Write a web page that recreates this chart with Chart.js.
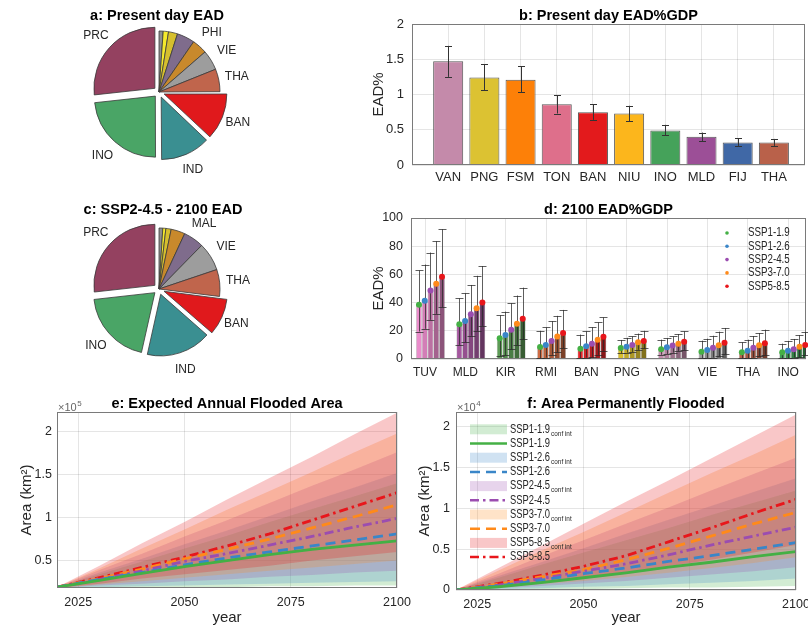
<!DOCTYPE html>
<html>
<head>
<meta charset="utf-8">
<script src="https://cdn.jsdelivr.net/npm/chart.js@4.4.1/dist/chart.umd.min.js"></script>
<style>
  html, body { margin: 0; padding: 0; background: #fff; }
  body { width: 808px; height: 625px; position: relative; overflow: hidden; }
  canvas { position: absolute; }
</style>
</head>
<body>
<canvas id="pieA" width="318" height="190" style="left:0;top:0"></canvas>
<canvas id="pieC" width="318" height="190" style="left:0;top:195px"></canvas>
<canvas id="barB" width="460" height="200" style="left:360px;top:0"></canvas>
<canvas id="barD" width="460" height="180" style="left:360px;top:200px"></canvas>
<canvas id="lineE" width="420" height="232" style="left:0;top:395px"></canvas>
<canvas id="lineF" width="420" height="232" style="left:400px;top:395px"></canvas>
<script>
// ---------------- data ----------------
// a: present-day expected annual damage share (%), clockwise from 12 o'clock
const pieALabels = ['', '', '', '', 'PHI', 'VIE', 'THA', 'BAN', 'IND', 'INO', 'PRC'];
const pieAValues = [1.1, 1.4, 2.4, 4.7, 4.0, 5.3, 6.0, 12.1, 12.9, 23.3, 26.7];
// c: SSP2-4.5 2100 expected annual damage share (%), clockwise from 12 o'clock
const pieCLabels = ['', '', '', '', 'MAL', 'VIE', 'THA', 'BAN', 'IND', 'INO', 'PRC'];
const pieCValues = [1.0, 0.8, 1.4, 3.7, 5.4, 7.5, 7.1, 9.5, 17.0, 19.7, 26.7];

// b: present-day EAD as % of GDP
const bCountries = ['VAN', 'PNG', 'FSM', 'TON', 'BAN', 'NIU', 'INO', 'MLD', 'FIJ', 'THA'];
const bMean = [1.47, 1.24, 1.21, 0.86, 0.75, 0.73, 0.49, 0.40, 0.32, 0.32];
const bLow  = [1.25, 1.06, 1.03, 0.73, 0.64, 0.62, 0.42, 0.34, 0.27, 0.27];
const bHigh = [1.69, 1.43, 1.40, 0.99, 0.86, 0.84, 0.57, 0.46, 0.38, 0.37];

// d: 2100 EAD as % of GDP per scenario (rows) and country (columns)
const dCountries = ['TUV', 'MLD', 'KIR', 'RMI', 'BAN', 'PNG', 'VAN', 'VIE', 'THA', 'INO'];
const scenarios = ['SSP1-1.9', 'SSP1-2.6', 'SSP2-4.5', 'SSP3-7.0', 'SSP5-8.5'];
const dMean = [
  [38.4, 24.7, 14.8,  8.5,  7.3,  7.8,  7.0,  5.2,  4.7, 4.7],
  [41.4, 27.0, 17.0, 10.0,  9.0,  8.7,  8.3,  6.4,  5.9, 5.9],
  [48.5, 31.8, 20.7, 12.7, 10.9, 10.0,  9.5,  8.0,  8.0, 6.9],
  [53.4, 36.0, 25.0, 16.0, 13.7, 11.8, 10.9,  9.7,  9.7, 8.7],
  [58.4, 40.0, 28.5, 18.4, 15.8, 12.8, 12.3, 11.6, 11.1, 9.9]
];
const dHigh = [
  [62.8, 43.0, 31.0, 20.0, 17.3, 13.5, 13.7, 13.0, 11.8, 10.9],
  [67.0, 46.6, 33.6, 22.4, 19.6, 15.0, 14.7, 14.4, 13.7, 12.8],
  [75.5, 52.5, 39.5, 26.8, 22.5, 16.0, 16.0, 16.5, 16.3, 14.2],
  [83.5, 59.0, 45.0, 30.6, 26.0, 18.0, 17.7, 19.4, 18.4, 17.0],
  [92.0, 65.9, 50.6, 34.8, 29.5, 20.0, 19.6, 22.0, 20.8, 18.9]
];
const dLow = [
  [19.5, 10.0,  2.0, 0.5, 0.5, 4.0, 3.0, 0.5, 0.5, 0.5],
  [21.4, 11.8,  2.6, 1.0, 1.0, 4.5, 3.5, 0.5, 0.5, 0.5],
  [27.8, 16.5,  7.0, 3.0, 1.5, 5.0, 4.5, 1.0, 1.0, 1.0],
  [32.0, 20.0, 10.0, 4.7, 3.0, 6.5, 5.5, 2.0, 2.0, 1.5],
  [36.7, 23.5, 14.0, 7.8, 6.0, 7.5, 6.5, 3.5, 3.0, 2.5]
];

// e/f: projection years
const years = [2020, 2030, 2040, 2050, 2060, 2070, 2080, 2090, 2100];
// e: expected annual flooded area (x10^5 km^2), per scenario
const eMedian = [
  [0.19, 0.27, 0.35, 0.43, 0.50, 0.57, 0.63, 0.68, 0.73],
  [0.19, 0.28, 0.36, 0.45, 0.53, 0.60, 0.67, 0.74, 0.81],
  [0.19, 0.28, 0.38, 0.49, 0.58, 0.68, 0.78, 0.89, 0.99],
  [0.19, 0.29, 0.40, 0.52, 0.63, 0.75, 0.88, 1.01, 1.15],
  [0.19, 0.30, 0.42, 0.54, 0.67, 0.81, 0.97, 1.13, 1.29]
];
const eUpper = [
  [0.19, 0.34, 0.49, 0.64, 0.79, 0.95, 1.10, 1.25, 1.40],
  [0.19, 0.36, 0.52, 0.69, 0.85, 1.02, 1.19, 1.35, 1.52],
  [0.19, 0.39, 0.58, 0.78, 0.97, 1.17, 1.37, 1.56, 1.76],
  [0.19, 0.41, 0.64, 0.86, 1.09, 1.31, 1.53, 1.76, 1.98],
  [0.19, 0.44, 0.70, 0.95, 1.21, 1.46, 1.71, 1.97, 2.22]
];
const eLower = [
  [0.18, 0.18, 0.19, 0.19, 0.19, 0.20, 0.20, 0.21, 0.21],
  [0.18, 0.19, 0.20, 0.21, 0.22, 0.23, 0.24, 0.25, 0.26],
  [0.18, 0.21, 0.23, 0.26, 0.28, 0.31, 0.33, 0.36, 0.38],
  [0.18, 0.22, 0.26, 0.30, 0.34, 0.38, 0.42, 0.46, 0.50],
  [0.18, 0.23, 0.29, 0.34, 0.39, 0.44, 0.50, 0.55, 0.60]
];
// f: area permanently flooded (x10^4 km^2), per scenario
const fMedian = [
  [0, 0.04, 0.09, 0.15, 0.21, 0.28, 0.34, 0.41, 0.47],
  [0, 0.05, 0.12, 0.20, 0.27, 0.35, 0.42, 0.50, 0.58],
  [0, 0.06, 0.14, 0.23, 0.32, 0.43, 0.55, 0.66, 0.77],
  [0, 0.07, 0.16, 0.25, 0.37, 0.51, 0.66, 0.81, 0.95],
  [0, 0.08, 0.18, 0.29, 0.42, 0.59, 0.76, 0.94, 1.11]
];
const fUpper = [
  [0, 0.15, 0.31, 0.46, 0.61, 0.76, 0.92, 1.07, 1.22],
  [0, 0.17, 0.34, 0.51, 0.69, 0.86, 1.03, 1.20, 1.37],
  [0, 0.20, 0.41, 0.61, 0.81, 1.01, 1.22, 1.42, 1.62],
  [0, 0.24, 0.48, 0.71, 0.95, 1.19, 1.43, 1.66, 1.90],
  [0, 0.27, 0.54, 0.81, 1.08, 1.34, 1.61, 1.88, 2.15]
];
const fLower = [
  [0, 0.00, 0.01, 0.01, 0.02, 0.03, 0.03, 0.04, 0.05],
  [0, 0.01, 0.02, 0.04, 0.05, 0.07, 0.09, 0.11, 0.14],
  [0, 0.02, 0.05, 0.08, 0.11, 0.15, 0.19, 0.23, 0.28],
  [0, 0.03, 0.07, 0.11, 0.16, 0.21, 0.27, 0.33, 0.40],
  [0, 0.04, 0.09, 0.15, 0.22, 0.29, 0.37, 0.46, 0.55]
];

// ---------------- styles ----------------
const FONT = '"Liberation Sans", Arial, Helvetica, sans-serif';
const TXT = '#262626';
const GRID = 'rgba(0,0,0,0.10)';
const FRAME = '#7a7a7a';
const BAND_ALPHA = 0.24;
const scenColors = [[68, 176, 69], [58, 134, 200], [155, 77, 176], [255, 138, 26], [232, 22, 27]];
const scenDash = [[], [10, 6], [9, 4, 2.5, 4], [10, 6], [9, 4, 2.5, 4]];
const rgb = (c, a = 1) => `rgba(${c[0]},${c[1]},${c[2]},${a})`;

const pieAColors = ['#8e8e8e', '#f5ea2c', '#d6bf2e', '#7f6c8c', '#c8892c', '#9d9d9d', '#c0654c', '#e0191c', '#3a8f91', '#4aa566', '#944160'];
const pieCColors = ['#8e8e8e', '#f5ea2c', '#d6bf2e', '#c8892c', '#7f6c8c', '#9d9d9d', '#c0654c', '#e0191c', '#3a8f91', '#4aa566', '#944160'];
// arc offset (Chart.js moves an arc by a quarter of this value)
const pieExplode = [0, 0, 0, 0, 0, 0, 0, 22, 22, 22, 22];

const bColors = ['#c48aaa', '#dcc232', '#fd8008', '#de6f8b', '#e31a1c', '#fcb61c', '#45a25a', '#9c4f97', '#4068a6', '#b9614a'];
const dBase = [[234, 140, 203], [165, 89, 159], [93, 155, 86], [207, 108, 68], [227, 38, 42],
               [216, 189, 46], [197, 142, 174], [154, 154, 154], [185, 98, 75], [63, 157, 84]];

Chart.defaults.font.family = FONT;
Chart.defaults.color = TXT;
Chart.defaults.animation = false;
Chart.defaults.responsive = false;
Chart.defaults.plugins.legend.display = false;
Chart.defaults.plugins.tooltip.enabled = false;

// ---------------- plugins ----------------
const panelTitle = {
  id: 'panelTitle',
  afterDraw(chart, args, o) {
    const {ctx, chartArea} = chart;
    ctx.save();
    ctx.font = `bold 14.5px ${FONT}`;
    ctx.fillStyle = '#000';
    ctx.textAlign = 'center';
    ctx.textBaseline = 'middle';
    const x = o.x !== undefined ? o.x : (chartArea.left + chartArea.right) / 2;
    ctx.fillText(o.text, x, o.y);
    ctx.restore();
  }
};

const frame = {
  id: 'frame',
  afterDatasetsDraw(chart) {
    const {ctx, chartArea: a} = chart;
    ctx.save();
    ctx.strokeStyle = FRAME;
    ctx.lineWidth = 1;
    ctx.strokeRect(Math.round(a.left) + 0.5, Math.round(a.top) + 0.5,
                   Math.round(a.right - a.left) - 1, Math.round(a.bottom - a.top) - 1);
    ctx.restore();
  }
};

const pieLabels = {
  id: 'pieLabels',
  afterDatasetsDraw(chart, args, o) {
    const {ctx} = chart;
    const meta = chart.getDatasetMeta(0);
    const labels = chart.data.labels;
    ctx.save();
    ctx.font = `12px ${FONT}`;
    ctx.fillStyle = TXT;
    ctx.textAlign = 'center';
    ctx.textBaseline = 'middle';
    meta.data.forEach((arc, i) => {
      if (!labels[i]) return;
      const p = arc.getProps(['x', 'y', 'startAngle', 'endAngle', 'outerRadius'], true);
      const mid = (p.startAngle + p.endAngle) / 2;
      const r = p.outerRadius * o.factor + (arc.options.offset || 0) / 4;
      ctx.fillText(labels[i], p.x + Math.cos(mid) * r, p.y + Math.sin(mid) * r);
    });
    ctx.restore();
  }
};

// error bars (and optional top markers) for bar charts
const errorBars = {
  id: 'errorBars',
  afterDatasetsDraw(chart, args, o) {
    const {ctx} = chart;
    const ys = chart.scales.y;
    ctx.save();
    chart.data.datasets.forEach((ds, d) => {
      const meta = chart.getDatasetMeta(d);
      meta.data.forEach((bar, i) => {
        const yl = ys.getPixelForValue(o.low[d][i]);
        const yh = ys.getPixelForValue(o.high[d][i]);
        const x = Math.round(bar.x) + 0.5;
        ctx.strokeStyle = o.color;
        ctx.lineWidth = 1;
        ctx.beginPath();
        ctx.moveTo(x, yl); ctx.lineTo(x, yh);
        ctx.moveTo(x - o.cap, Math.round(yl) + 0.5); ctx.lineTo(x + o.cap, Math.round(yl) + 0.5);
        ctx.moveTo(x - o.cap, Math.round(yh) + 0.5); ctx.lineTo(x + o.cap, Math.round(yh) + 0.5);
        ctx.stroke();
      });
    });
    if (o.dots) {
      chart.data.datasets.forEach((ds, d) => {
        const meta = chart.getDatasetMeta(d);
        ctx.fillStyle = rgb(scenColors[d]);
        meta.data.forEach(bar => {
          ctx.beginPath();
          ctx.arc(bar.x, bar.y, o.dots, 0, Math.PI * 2);
          ctx.fill();
        });
      });
    }
    ctx.restore();
  }
};

// legend text is set in a narrow face: draw it horizontally condensed
function narrowText(ctx, text, x, y, size, squeeze) {
  ctx.save();
  ctx.font = `${size}px ${FONT}`;
  ctx.translate(x, y);
  ctx.scale(squeeze, 1);
  ctx.fillText(text, 0, 0);
  const w = ctx.measureText(text).width * squeeze;
  ctx.restore();
  return w;
}

const dotLegend = {
  id: 'dotLegend',
  afterDraw(chart, args, o) {
    const {ctx} = chart;
    ctx.save();
    ctx.textBaseline = 'middle';
    scenarios.forEach((name, s) => {
      const y = o.y + s * o.step;
      ctx.fillStyle = rgb(scenColors[s]);
      ctx.beginPath();
      ctx.arc(o.x, y, 1.8, 0, Math.PI * 2);
      ctx.fill();
      ctx.fillStyle = TXT;
      narrowText(ctx, name, o.x + 21, y, 12.5, 0.78);
    });
    ctx.restore();
  }
};

const exponent = {
  id: 'exponent',
  afterDraw(chart, args, o) {
    const {ctx, chartArea} = chart;
    ctx.save();
    ctx.fillStyle = '#666';
    ctx.textBaseline = 'alphabetic';
    ctx.font = `11px ${FONT}`;
    const x = chartArea.left + 1, y = chartArea.top - 1;
    ctx.fillText('×10', x, y);
    const w = ctx.measureText('×10').width;
    ctx.font = `8px ${FONT}`;
    ctx.fillText(o.power, x + w + 0.5, y - 5);
    ctx.restore();
  }
};

const bandLegend = {
  id: 'bandLegend',
  afterDraw(chart, args, o) {
    const {ctx} = chart;
    ctx.save();
    ctx.textBaseline = 'middle';
    let y = o.y;
    scenarios.forEach((name, s) => {
      ctx.fillStyle = rgb(scenColors[s], BAND_ALPHA);
      ctx.fillRect(o.x, y - 5, 37, 10);
      ctx.fillStyle = TXT;
      const w = narrowText(ctx, name, o.x + 40, y, 12, 0.78);
      narrowText(ctx, 'conf int', o.x + 40 + w + 1, y + 4, 8, 0.8);
      y += o.step;
      ctx.strokeStyle = rgb(scenColors[s]);
      ctx.lineWidth = 2.5;
      ctx.setLineDash(scenDash[s]);
      ctx.beginPath();
      ctx.moveTo(o.x, y); ctx.lineTo(o.x + 37, y);
      ctx.stroke();
      ctx.setLineDash([]);
      ctx.fillStyle = TXT;
      narrowText(ctx, name, o.x + 40, y, 12, 0.78);
      y += o.step;
    });
    ctx.restore();
  }
};

// ---------------- axis helpers ----------------
function valueAxis({min, max, ticks, width, title, titlePad, size, pad}) {
  return {
    type: 'linear', min, max,
    afterFit: s => { s.width = width; },
    afterBuildTicks: s => { s.ticks = ticks.map(v => ({value: v})); },
    grid: {color: GRID, drawTicks: false},
    border: {display: false},
    ticks: {font: {size}, padding: pad, color: TXT, callback: v => String(v)},
    title: {display: !!title, text: title, font: {size: 15}, color: TXT,
            padding: {top: titlePad, bottom: 0}}
  };
}
function categoryAxis({min, max, names, height, size, pad}) {
  return {
    type: 'linear', min, max, offset: false,
    afterFit: s => { s.height = height; },
    afterBuildTicks: s => { s.ticks = names.map((n, i) => ({value: i + 1})); },
    grid: {color: GRID, drawTicks: false, offset: false},
    border: {display: false},
    ticks: {font: {size}, padding: pad, color: TXT, maxRotation: 0, autoSkip: false,
            callback: v => names[Math.round(v) - 1] || ''}
  };
}

// ---------------- a / c: pies ----------------
function makePie(id, labels, values, colors, title, titleX, titleY, padBottom) {
  new Chart(document.getElementById(id), {
    type: 'pie',
    data: {
      labels,
      datasets: [{
        data: values,
        backgroundColor: colors,
        borderColor: '#3a3a3a',
        borderWidth: 0.8,
        offset: pieExplode
      }]
    },
    options: {
      rotation: 0,
      radius: 61,
      layout: {padding: {top: 0, bottom: padBottom, left: 0, right: 0}},
      plugins: {panelTitle: {text: title, x: titleX, y: titleY}, pieLabels: {factor: 1.3}}
    },
    plugins: [pieLabels, panelTitle]
  });
}
makePie('pieA', pieALabels, pieAValues, pieAColors, 'a: Present day EAD', 157, 16, 6);
makePie('pieC', pieCLabels, pieCValues, pieCColors, 'c: SSP2-4.5 - 2100 EAD', 163, 15, 2);

// ---------------- b: present-day EAD%GDP ----------------
new Chart(document.getElementById('barB'), {
  type: 'bar',
  data: {
    datasets: [{
      data: bMean.map((v, i) => ({x: i + 1, y: v})),
      backgroundColor: bColors,
      borderColor: '#555',
      borderWidth: 1,
      barPercentage: 0.83,
      categoryPercentage: 1
    }]
  },
  options: {
    layout: {padding: {left: 0, right: 15, top: 24, bottom: 0}},
    scales: {
      x: categoryAxis({min: 0, max: 10.86, names: bCountries, height: 35, size: 13, pad: 5}),
      y: valueAxis({min: 0, max: 2, ticks: [0, 0.5, 1, 1.5, 2], width: 52, title: 'EAD%', titlePad: 10, size: 13, pad: 8})
    },
    plugins: {
      panelTitle: {text: 'b: Present day EAD%GDP', y: 16},
      errorBars: {low: [bLow], high: [bHigh], color: '#333', cap: 3.5}
    }
  },
  plugins: [frame, errorBars, panelTitle]
});

// ---------------- d: 2100 EAD%GDP by scenario ----------------
const groupShift = 0.136;
function shade(c, k) {
  const f = 1 - 0.1 * k;
  return `rgb(${Math.round(c[0] * f)},${Math.round(c[1] * f)},${Math.round(c[2] * f)})`;
}
new Chart(document.getElementById('barD'), {
  type: 'bar',
  data: {
    datasets: scenarios.map((name, s) => ({
      label: name,
      data: dMean[s].map((v, i) => ({x: i + 1 + groupShift, y: v})),
      backgroundColor: dBase.map(c => shade(c, s)),
      borderColor: 'rgba(0,0,0,0.35)',
      borderWidth: 0.6,
      barPercentage: 1,
      categoryPercentage: 0.713
    }))
  },
  options: {
    layout: {padding: {left: 0, right: 14, top: 18, bottom: 0}},
    scales: {
      x: categoryAxis({min: 0.653, max: 10.44, names: dCountries, height: 21, size: 12, pad: 6}),
      y: valueAxis({min: 0, max: 100, ticks: [0, 20, 40, 60, 80, 100], width: 51, title: 'EAD%', titlePad: 10, size: 12.5, pad: 8})
    },
    plugins: {
      panelTitle: {text: 'd: 2100 EAD%GDP', y: 10},
      errorBars: {low: dLow, high: dHigh, color: 'rgba(40,40,40,0.75)', cap: 4, dots: 3},
      dotLegend: {x: 367, y: 33, step: 13.3}
    }
  },
  plugins: [frame, errorBars, dotLegend, panelTitle]
});

// ---------------- e / f: projections with confidence bands ----------------
function projectionSets(median, upper, lower) {
  const sets = [];
  scenarios.forEach((name, s) => {
    sets.push({
      label: name + ' conf int',
      data: years.map((x, i) => ({x, y: upper[s][i]})),
      fill: '+1', backgroundColor: rgb(scenColors[s], BAND_ALPHA),
      borderWidth: 0, pointRadius: 0, order: 10 - s
    });
    sets.push({
      data: years.map((x, i) => ({x, y: lower[s][i]})),
      fill: false, borderWidth: 0, pointRadius: 0, order: 10 - s
    });
  });
  scenarios.forEach((name, s) => {
    sets.push({
      label: name,
      data: years.map((x, i) => ({x, y: median[s][i]})),
      borderColor: rgb(scenColors[s]), borderWidth: 2.8, borderDash: scenDash[s],
      pointRadius: 0, fill: false, order: 0
    });
  });
  return sets;
}
function yearAxis(height) {
  return {
    type: 'linear', min: 2020, max: 2100,
    afterFit: s => { s.height = height; },
    afterBuildTicks: s => { s.ticks = [2025, 2050, 2075, 2100].map(v => ({value: v})); },
    grid: {color: GRID, drawTicks: false},
    border: {display: false},
    ticks: {font: {size: 12.5}, padding: 7, color: TXT, maxRotation: 0, callback: v => String(v)},
    title: {display: true, text: 'year', font: {size: 15}, color: TXT, padding: {top: 0, bottom: 0}}
  };
}

new Chart(document.getElementById('lineE'), {
  type: 'line',
  data: {datasets: projectionSets(eMedian, eUpper, eLower)},
  options: {
    layout: {padding: {left: 0, right: 23, top: 17, bottom: 0}},
    scales: {
      x: yearAxis(39),
      y: valueAxis({min: 0.18, max: 2.23, ticks: [0.5, 1, 1.5, 2], width: 57, title: 'Area (km²)', titlePad: 18, size: 12.5, pad: 5})
    },
    plugins: {
      panelTitle: {text: 'e: Expected Annual Flooded Area', y: 9},
      exponent: {power: '5'}
    }
  },
  plugins: [frame, exponent, panelTitle]
});

new Chart(document.getElementById('lineF'), {
  type: 'line',
  data: {datasets: projectionSets(fMedian, fUpper, fLower)},
  options: {
    layout: {padding: {left: 0, right: 24, top: 17, bottom: 0}},
    scales: {
      x: yearAxis(37),
      y: valueAxis({min: 0, max: 2.18, ticks: [0, 0.5, 1, 1.5, 2], width: 56, title: 'Area (km²)', titlePad: 16, size: 12.5, pad: 6})
    },
    plugins: {
      panelTitle: {text: 'f: Area Permanently Flooded', y: 9},
      exponent: {power: '4'},
      bandLegend: {x: 70, y: 34.3, step: 14.2}
    }
  },
  plugins: [frame, exponent, bandLegend, panelTitle]
});
</script>
</body>
</html>
